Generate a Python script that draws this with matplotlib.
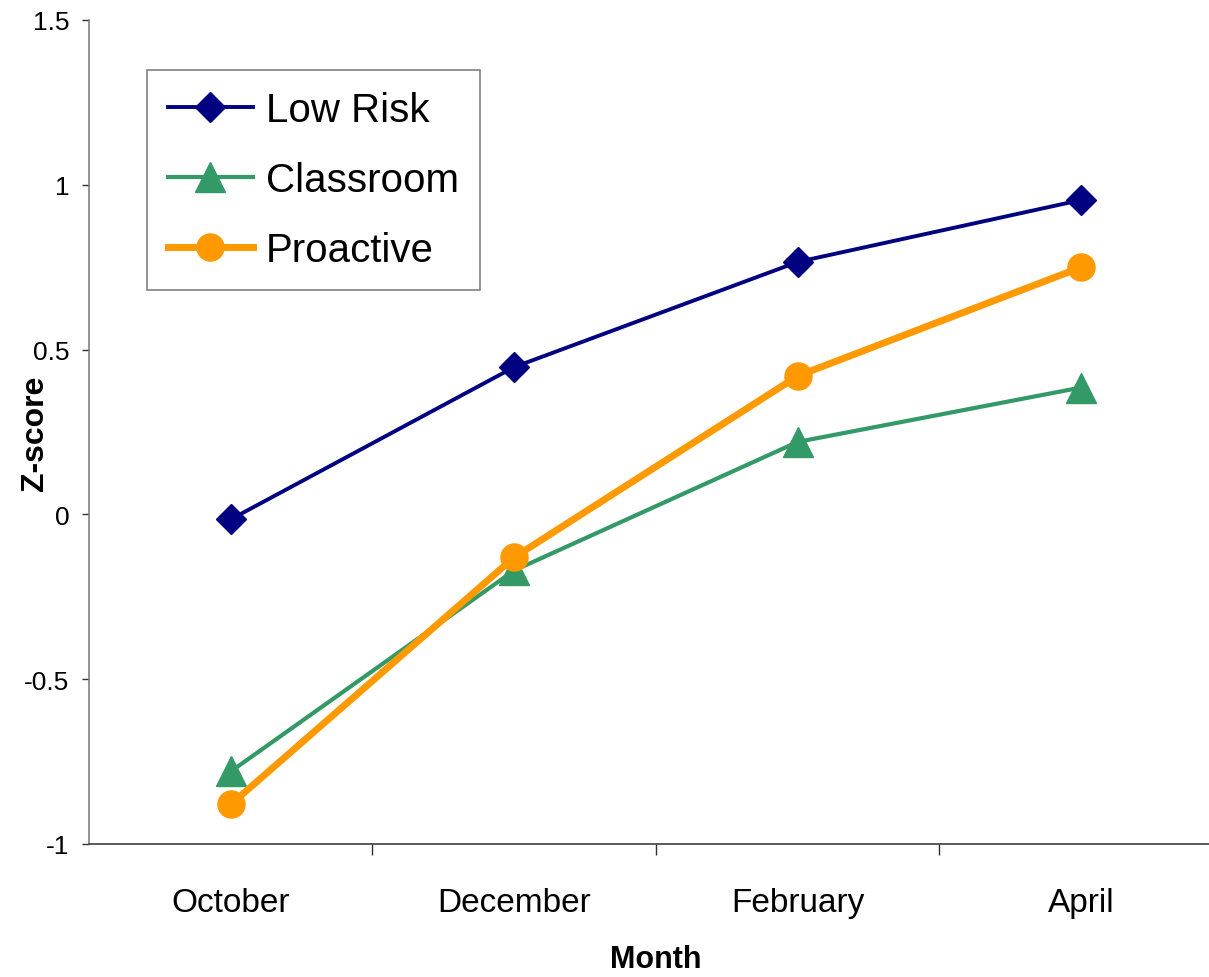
import matplotlib
matplotlib.use("Agg")
import matplotlib.pyplot as plt

months = ["October", "December", "February", "April"]
low_risk = [-0.015, 0.447, 0.766, 0.954]
classroom = [-0.78, -0.17, 0.22, 0.385]
proactive = [-0.88, -0.13, 0.42, 0.75]
y_ticks = [-1, -0.5, 0, 0.5, 1, 1.5]
y_tick_labels = ["-1", "-0.5", "0", "0.5", "1", "1.5"]

plt.rcParams["font.family"] = ["Liberation Sans", "DejaVu Sans"]

fig = plt.figure(figsize=(12.09, 9.78), dpi=100)
ax = fig.add_axes([89 / 1209, 1 - 845 / 978, 1134 / 1209, 824 / 978])

x = list(range(len(months)))
ax.plot(x, low_risk, color="#000080", lw=2.8, marker="D", ms=15.5, label="Low Risk")
ax.plot(x, classroom, color="#339966", lw=3.0, marker="^", ms=22, label="Classroom")
ax.plot(x, proactive, color="#FF9900", lw=5.0, marker="o", ms=19.5, label="Proactive")

ax.set_xlim(-0.5, 3.5)
ax.set_ylim(-1, 1.5)
ax.set_yticks(y_ticks)
ax.set_yticklabels(y_tick_labels, fontsize=19)
ax.set_xticks(x)
ax.set_xticklabels(months, fontsize=24)
ax.set_xticks([0.5, 1.5, 2.5], minor=True)
ax.tick_params(axis="x", which="major", length=0, pad=31)
ax.tick_params(axis="x", which="minor", length=8, width=1, color="#303030")
ax.tick_params(axis="y", length=5, width=1, color="#303030", pad=9)

ax.spines["top"].set_visible(False)
ax.spines["right"].set_visible(False)
ax.spines["left"].set_color("#808080")
ax.spines["left"].set_linewidth(1.2)
ax.spines["bottom"].set_color("#404040")
ax.spines["bottom"].set_linewidth(1.2)

ax.set_xlabel("Month", fontsize=22, fontweight="bold", labelpad=19)
ax.set_ylabel("Z-score", fontsize=23, fontweight="bold")
ax.yaxis.set_label_coords(-0.034, 0.5)

leg = ax.legend(loc="upper left", bbox_to_anchor=(147 / 1209, 1 - 71 / 978),
                bbox_transform=fig.transFigure, borderaxespad=0,
                fontsize=29, frameon=True, fancybox=False, edgecolor="#606060",
                handlelength=2.1, handletextpad=0.33, labelspacing=0.8,
                borderpad=0.52, markerscale=1.0)
leg.get_frame().set_linewidth(1.2)

fig.savefig("out.png", dpi=100)
